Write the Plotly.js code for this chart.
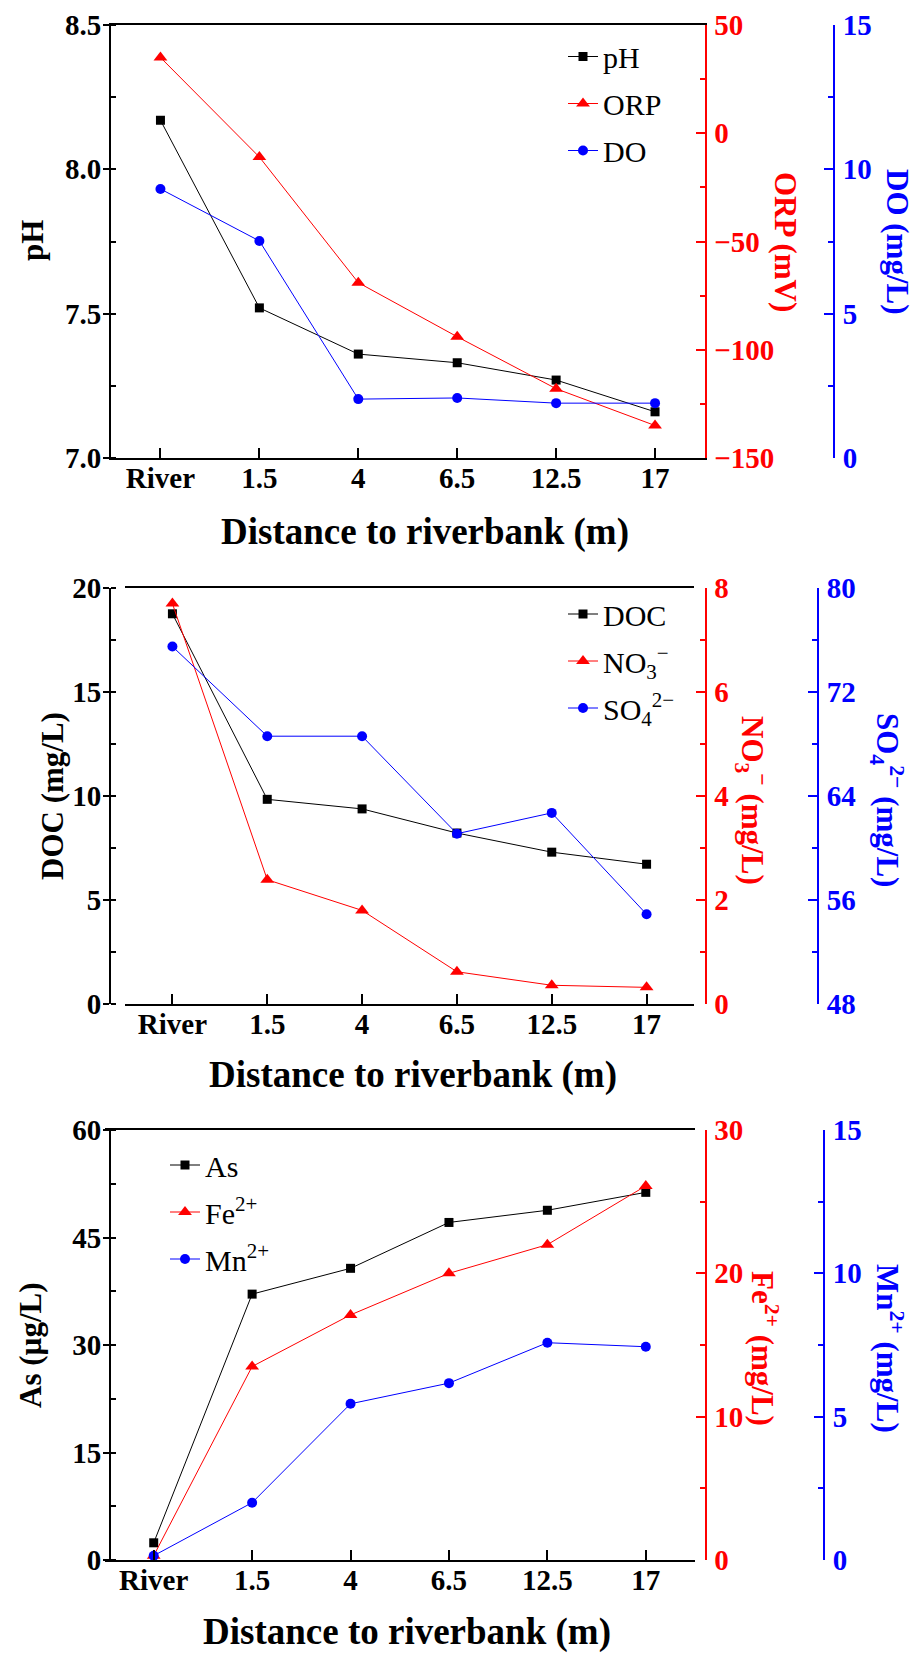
<!DOCTYPE html>
<html>
<head>
<meta charset="utf-8">
<script src="https://cdn.plot.ly/plotly-3.0.1.min.js"></script>
<style>
  html, body { margin: 0; padding: 0; background: #fff; }
  #chart { width: 919px; height: 1653px; }
</style>
</head>
<body>
<div id="chart"></div>
<script>
// Sampling positions along the transect
const categories = ['River', '1.5', '4', '6.5', '12.5', '17'];

// Panel (a): field parameters
const pH  = [8.17, 7.52, 7.36, 7.33, 7.27, 7.16];
const ORP = [35, -11, -69, -94, -118, -135];       // mV
const DO  = [9.32, 7.52, 2.04, 2.08, 1.90, 1.90];  // mg/L

// Panel (b): carbon and electron acceptors
const DOC = [18.76, 9.84, 9.38, 8.22, 7.30, 6.72]; // mg/L
const NO3 = [7.70, 2.39, 1.80, 0.62, 0.36, 0.32];  // mg/L
const SO4 = [75.5, 68.6, 68.6, 61.1, 62.7, 54.9];  // mg/L

// Panel (c): redox-sensitive species
const As = [2.4, 37.1, 40.7, 47.1, 48.8, 51.3];    // µg/L
const Fe = [0.3, 13.5, 17.1, 20.0, 22.0, 26.1];    // mg/L
const Mn = [0.15, 2.0, 5.45, 6.17, 7.58, 7.44];    // mg/L

const W = 919, H = 1653;
const FONT = 'Times New Roman, Liberation Serif, serif';
const BLACK = '#000000', RED = '#ff0000', BLUE = '#0000ff';

const px = v => v / W;
const py = v => 1 - v / H;

// Pixel frames for the three panels
const panels = [
  { left: 111, right: 704.5, third: 834, top: 25, bottom: 458 },
  { left: 125, right: 694, third: 818, top: 588, bottom: 1004 },
  { left: 104.5, right: 695, third: 824, top: 1130, bottom: 1560 }
];

function leftAxis(p, range, dtick, minor, fmt) {
  return {
    domain: [py(p.bottom), py(p.top)], range: range, dtick: dtick, tick0: range[0],
    tickformat: fmt || '', showgrid: false, zeroline: false,
    showline: true, linecolor: BLACK, linewidth: 2,
    ticks: 'outside', ticklen: 6, tickwidth: 2, tickcolor: BLACK,
    minor: { dtick: minor, tick0: range[0], ticks: 'inside', ticklen: 5, tickwidth: 2, tickcolor: BLACK, showgrid: false },
    tickfont: { family: FONT, size: 29, color: BLACK, weight: 'bold' },
    ticklabelstandoff: -4, fixedrange: true
  };
}
function rightAxis(p, base, range, dtick, minor, color, position) {
  const ax = {
    domain: [py(p.bottom), py(p.top)], range: range, dtick: dtick, tick0: range[0],
    overlaying: base, side: 'right', showgrid: false, zeroline: false,
    showline: true, linecolor: color, linewidth: 2,
    ticks: 'inside', ticklen: 9, tickwidth: 2, tickcolor: color,
    minor: { dtick: minor, tick0: range[0], ticks: 'inside', ticklen: 5, tickwidth: 2, tickcolor: color, showgrid: false },
    tickfont: { family: FONT, size: 29, color: color, weight: 'bold' },
    ticklabelstandoff: 2, fixedrange: true
  };
  if (position !== undefined) { ax.anchor = 'free'; ax.position = position; }
  return ax;
}
function xAxis(p, yname) {
  return {
    type: 'category', domain: [px(p.left), px(p.right)], range: [-0.5, 5.5],
    anchor: yname, showgrid: false, zeroline: false,
    showline: true, mirror: true, linecolor: BLACK, linewidth: 2,
    ticks: 'inside', ticklen: 10, tickwidth: 2, tickcolor: BLACK,
    tickfont: { family: FONT, size: 29, color: BLACK, weight: 'bold' },
    ticklabelstandoff: -7, fixedrange: true
  };
}

function series(y, name, color, symbol, size, xa, ya, legend) {
  return {
    x: categories, y: y, name: name, type: 'scatter', mode: 'lines+markers',
    line: { color: color, width: 1 },
    marker: { color: color, symbol: symbol, size: size, line: { width: 0 } },
    xaxis: xa, yaxis: ya, legend: legend, legendgroup: name, cliponaxis: false
  };
}

const data = [
  series(pH,  'pH',  BLACK, 'square', 9, 'x', 'y', 'legend'),
  series(ORP, 'ORP', RED, 'triangle-up', 12, 'x', 'y2', 'legend'),
  series(DO,  'DO',  BLUE, 'circle', 10, 'x', 'y3', 'legend'),

  series(DOC, 'DOC', BLACK, 'square', 9, 'x2', 'y4', 'legend2'),
  series(NO3, 'NO<sub>3</sub><sup>−</sup>', RED, 'triangle-up', 12, 'x2', 'y5', 'legend2'),
  series(SO4, 'SO<sub>4</sub><sup>2−</sup>', BLUE, 'circle', 10, 'x2', 'y6', 'legend2'),

  series(As, 'As', BLACK, 'square', 9, 'x3', 'y7', 'legend3'),
  series(Fe, 'Fe<sup>2+</sup>', RED, 'triangle-up', 12, 'x3', 'y8', 'legend3'),
  series(Mn, 'Mn<sup>2+</sup>', BLUE, 'circle', 10, 'x3', 'y9', 'legend3')
];

const [p1, p2, p3] = panels;

function legendBox(x, y) {
  return {
    x: px(x), y: py(y), xanchor: 'left', yanchor: 'top',
    bgcolor: 'rgba(0,0,0,0)', borderwidth: 0,
    font: { family: FONT, size: 30, color: BLACK },
    traceorder: 'grouped', tracegroupgap: 5
  };
}

function title(text, x, y, color, angle, size) {
  return {
    text: text, xref: 'paper', yref: 'paper', x: px(x), y: py(y),
    xanchor: 'center', yanchor: 'middle', showarrow: false, textangle: angle,
    font: { family: FONT, size: size, color: color, weight: 'bold' }
  };
}

const XTITLE = 'Distance to riverbank (m)';

const layout = {
  width: W, height: H, margin: { l: 0, r: 0, t: 0, b: 0 },
  paper_bgcolor: '#ffffff', plot_bgcolor: 'rgba(0,0,0,0)',
  showlegend: true,
  font: { family: FONT },

  xaxis:  xAxis(p1, 'y'),
  yaxis:  leftAxis(p1, [7.0, 8.5], 0.5, 0.25, '.1f'),
  yaxis2: rightAxis(p1, 'y', [-150, 50], 50, 25, RED),
  yaxis3: rightAxis(p1, 'y', [0, 15], 5, 2.5, BLUE, px(p1.third)),

  xaxis2: xAxis(p2, 'y4'),
  yaxis4: leftAxis(p2, [0, 20], 5, 2.5),
  yaxis5: rightAxis(p2, 'y4', [0, 8], 2, 1, RED),
  yaxis6: rightAxis(p2, 'y4', [48, 80], 8, 4, BLUE, px(p2.third)),

  xaxis3: xAxis(p3, 'y7'),
  yaxis7: leftAxis(p3, [0, 60], 15, 7.5),
  yaxis8: rightAxis(p3, 'y7', [0, 30], 10, 5, RED),
  yaxis9: rightAxis(p3, 'y7', [0, 15], 5, 2.5, BLUE, px(p3.third)),

  legend:  legendBox(563, 30.5),
  legend2: legendBox(563, 588),
  legend3: legendBox(165, 1139),

  annotations: [
    title(XTITLE, 425, 532, BLACK, 0, 37),
    title('pH', 32, 241, BLACK, -90, 31),
    title('ORP (mV)', 785, 242, RED, 90, 31),
    title('DO (mg/L)', 897, 242, BLUE, 90, 31),

    title(XTITLE, 413, 1075, BLACK, 0, 37),
    title('DOC (mg/L)', 52, 796, BLACK, -90, 31),
    title('NO<sub>3</sub><sup>−</sup> (mg/L)', 752, 800, RED, 90, 31),
    title('SO<sub>4</sub><sup>2−</sup> (mg/L)', 887, 800, BLUE, 90, 31),

    title(XTITLE, 407, 1632, BLACK, 0, 37),
    title('As (µg/L)', 30, 1345, BLACK, -90, 31),
    title('Fe<sup>2+</sup> (mg/L)', 765, 1348, RED, 90, 31),
    title('Mn<sup>2+</sup> (mg/L)', 890, 1348, BLUE, 90, 31)
  ]
};

Plotly.newPlot('chart', data, layout, { staticPlot: true, displayModeBar: false });
</script>
</body>
</html>
